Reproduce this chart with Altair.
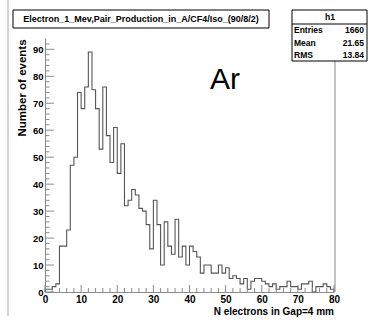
import altair as alt
import pandas as pd

# ---- data ----
counts = [1, 1, 2, 3, 17, 17, 23, 47, 50, 74,
          68, 76, 89, 75, 68, 53, 76, 58, 48, 61,
          44, 55, 32, 34, 38, 36, 31, 30, 25, 16,
          34, 25, 10, 26, 17, 14, 27, 13, 17, 10,
          17, 15, 13, 7, 10, 10, 7, 7, 10, 7,
          9, 5, 6, 5, 3, 5, 1, 4, 5, 5,
          4, 3, 2, 3, 1, 2, 2, 4, 2, 2,
          1, 3, 3, 4, 0, 2, 2, 3, 2, 1]
bin_lo = list(range(len(counts)))
x_labels = [0, 10, 20, 30, 40, 50, 60, 70, 80]
y_labels = [0, 10, 20, 30, 40, 50, 60, 70, 80, 90]
x_minor = [v for v in range(0, 81, 2) if v % 10 != 0]
y_minor = [v for v in range(0, 94, 2) if v % 10 != 0]
title_text = "Electron_1_Mev,Pair_Production_in_A/CF4/Iso_(90/8/2)"
stat_header = "h1"
stat_names = ["Entries", "Mean", "RMS"]
stat_values = ["1660", "21.65", "13.84"]
x_title = "N electrons in Gap=4 mm"
y_title = "Number of events"
label_text = "Ar"

FONT = "Liberation Sans"
GRAY = "#8a8a8a"
W, H = 289, 254

xs = alt.Scale(domain=[0, 80], nice=False, zero=False)
ys = alt.Scale(domain=[0, 94.2], nice=False)

x_axis = alt.Axis(
    values=x_labels, ticks=False, grid=False, domainColor=GRAY,
    labelFont=FONT, labelFontWeight="bold", labelFontSize=10,
    labelColor="black", labelPadding=2, title=None,
    labelFlush=False, labelOverlap=False)
y_axis = alt.Axis(
    values=y_labels, ticks=False, grid=False, domainColor=GRAY,
    labelFont=FONT, labelFontWeight="bold", labelFontSize=9.5,
    labelColor="black", labelPadding=2, title=None,
    labelFlush=False, labelOverlap=False)

# step outline points built from the counts
px = [0] + bin_lo + [80, 80]
py = [0] + counts + [counts[-1], 0]
hist_df = pd.DataFrame({"x": px, "y": py, "i": list(range(len(px)))})

hist = alt.Chart(hist_df).mark_line(
    interpolate="step-after", color="#555555", strokeWidth=1.1
).encode(
    x=alt.X("x:Q", scale=xs, axis=x_axis),
    y=alt.Y("y:Q", scale=ys, axis=y_axis),
    order=alt.Order("i:Q"),
)

one = pd.DataFrame({"a": [0]})

ytick_major = alt.Chart(pd.DataFrame({"y": y_labels})).mark_rule(color=GRAY).encode(
    y=alt.Y("y:Q", scale=ys, axis=y_axis), x=alt.value(0), x2=alt.value(9))
ytick_minor = alt.Chart(pd.DataFrame({"y": y_minor})).mark_rule(color=GRAY).encode(
    y=alt.Y("y:Q", scale=ys, axis=y_axis), x=alt.value(0), x2=alt.value(4.5))
xtick_major = alt.Chart(pd.DataFrame({"x": x_labels})).mark_rule(color=GRAY).encode(
    x=alt.X("x:Q", scale=xs, axis=x_axis), y=alt.value(H), y2=alt.value(H - 7))
xtick_minor = alt.Chart(pd.DataFrame({"x": x_minor})).mark_rule(color=GRAY).encode(
    x=alt.X("x:Q", scale=xs, axis=x_axis), y=alt.value(H), y2=alt.value(H - 4))

right_frame = alt.Chart(one).mark_rule(color=GRAY).encode(
    x=alt.value(W + 1), y=alt.value(0), y2=alt.value(H))
left_border = alt.Chart(one).mark_rule(color="#c4c4c4", strokeWidth=1.5).encode(
    x=alt.value(-37), y=alt.value(-38), y2=alt.value(278))

title_box = alt.Chart(one).mark_rect(fill="white", stroke="black", strokeWidth=1).encode(
    x=alt.value(-32), x2=alt.value(224), y=alt.value(-28), y2=alt.value(-10))
title_txt = alt.Chart(one).mark_text(
    font=FONT, fontWeight="bold", fontSize=9, align="center", baseline="middle",
    color="black").encode(x=alt.value(96), y=alt.value(-19), text=alt.value(title_text))

stat_box = alt.Chart(one).mark_rect(fill="white", stroke="black", strokeWidth=1).encode(
    x=alt.value(247), x2=alt.value(322), y=alt.value(-28), y2=alt.value(23))
stat_sep = alt.Chart(one).mark_rule(color="black").encode(
    x=alt.value(247), x2=alt.value(322), y=alt.value(-14))
stat_head = alt.Chart(one).mark_text(
    font=FONT, fontWeight="bold", fontSize=8.5, align="center", baseline="middle",
    color="black").encode(x=alt.value(285), y=alt.value(-21.5), text=alt.value(stat_header))

stat_layers = []
row_y = [-8, 5, 16.5]
for name, val, yy in zip(stat_names, stat_values, row_y):
    stat_layers.append(alt.Chart(one).mark_text(
        font=FONT, fontWeight="bold", fontSize=8.5, align="left", baseline="middle",
        color="black").encode(x=alt.value(249), y=alt.value(yy), text=alt.value(name)))
    stat_layers.append(alt.Chart(one).mark_text(
        font=FONT, fontWeight="bold", fontSize=8.5, align="right", baseline="middle",
        color="black").encode(x=alt.value(319), y=alt.value(yy), text=alt.value(val)))

xt = alt.Chart(one).mark_text(
    font=FONT, fontWeight="bold", fontSize=10, align="right", baseline="middle",
    color="black").encode(x=alt.value(W), y=alt.value(274), text=alt.value(x_title))
yt = alt.Chart(one).mark_text(
    font=FONT, fontWeight="bold", fontSize=11.5, align="center", baseline="middle",
    angle=270, color="black").encode(x=alt.value(-22), y=alt.value(50), text=alt.value(y_title))
ar = alt.Chart(one).mark_text(
    font=FONT, fontSize=30, align="left", baseline="alphabetic",
    color="black").encode(x=alt.value(165), y=alt.value(51), text=alt.value(label_text))

chart = alt.layer(
    left_border, hist, ytick_major, ytick_minor, xtick_major, xtick_minor,
    right_frame, title_box, title_txt, stat_box, stat_sep, stat_head,
    *stat_layers, xt, yt, ar
).properties(
    width=W, height=H,
    autosize=alt.AutoSizeParams(type="none"),
    padding={"left": 45, "top": 38, "right": 35, "bottom": 28},
    background="white",
).configure_view(stroke=None)

chart.save("out.html", embed_options={"renderer": "svg", "actions": False})
